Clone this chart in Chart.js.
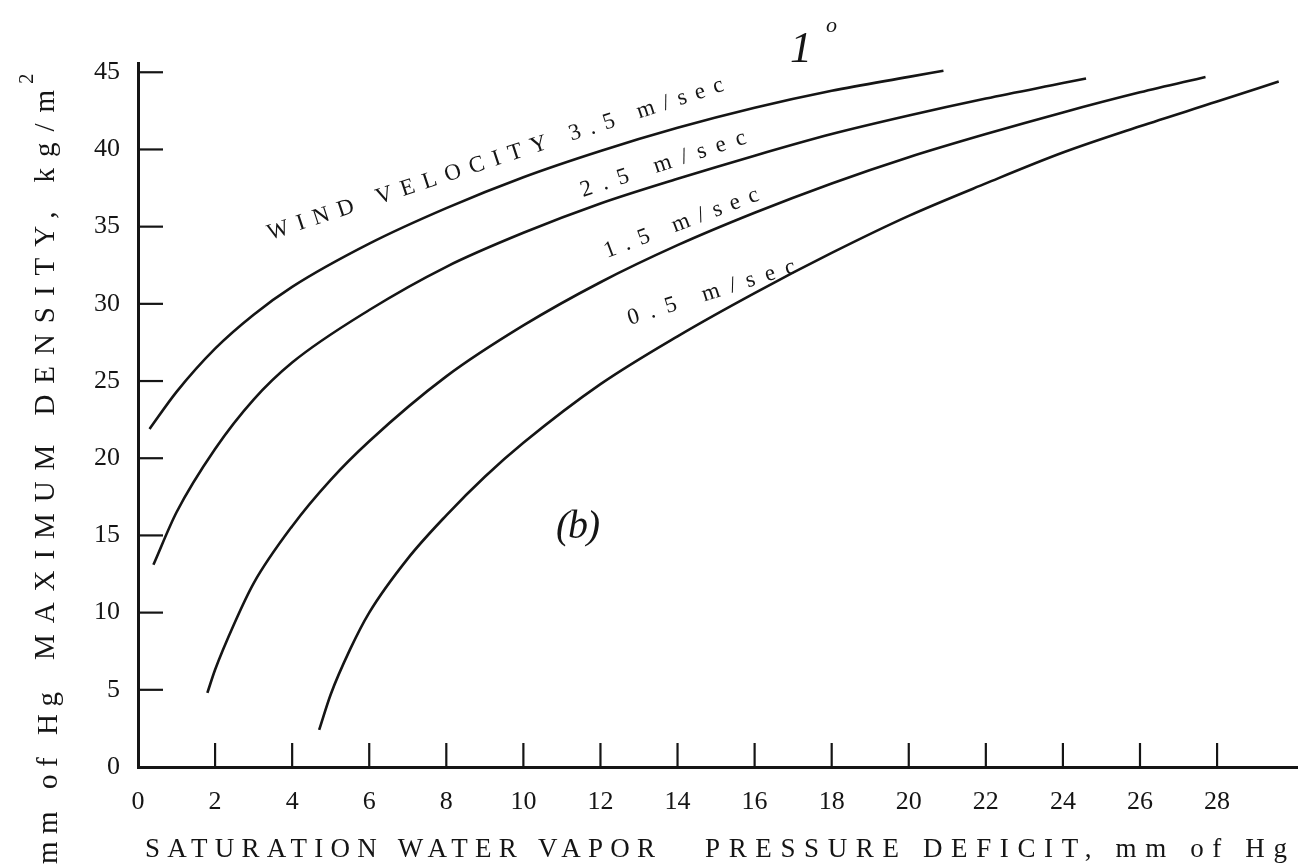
<!DOCTYPE html>
<html>
<head>
<meta charset="utf-8">
<script src="https://cdn.jsdelivr.net/npm/chart.js@4.4.1/dist/chart.umd.min.js"></script>
<style>
  html, body { margin: 0; padding: 0; background: #fff; }
  #chart { display: block; }
</style>
</head>
<body>
<canvas id="chart" width="1298" height="868"></canvas>
<script>
// values
const xTicks = [0, 2, 4, 6, 8, 10, 12, 14, 16, 18, 20, 22, 24, 26, 28];
const yTicks = [0, 5, 10, 15, 20, 25, 30, 35, 40, 45];

const wind35X = [0.3, 1, 2, 3, 4, 6, 8, 10, 12, 14, 16, 18, 20, 20.9];
const wind35Y = [21.9, 24.3, 27.1, 29.3, 31.1, 33.9, 36.2, 38.2, 39.9, 41.4, 42.7, 43.8, 44.7, 45.1];

const wind25X = [0.4, 1, 2, 3, 4, 6, 8, 10, 12, 14, 16, 18, 20, 22, 24, 24.6];
const wind25Y = [13.1, 16.5, 20.6, 23.8, 26.2, 29.6, 32.4, 34.6, 36.5, 38.1, 39.6, 41.0, 42.2, 43.3, 44.3, 44.6];

const wind15X = [1.8, 2, 2.5, 3, 4, 5, 6, 8, 10, 12, 14, 16, 18, 20, 22, 24, 26, 27.7];
const wind15Y = [4.8, 6.3, 9.3, 11.9, 15.6, 18.6, 21.1, 25.3, 28.6, 31.4, 33.8, 35.9, 37.8, 39.5, 41.0, 42.4, 43.7, 44.7];

const wind05X = [4.7, 5, 5.5, 6, 7, 8, 9, 10, 12, 14, 16, 18, 20, 22, 24, 26, 28, 29.6];
const wind05Y = [2.4, 4.7, 7.6, 10.0, 13.5, 16.3, 18.8, 21.0, 24.8, 27.9, 30.7, 33.3, 35.7, 37.8, 39.8, 41.5, 43.1, 44.4];

const curveLabels = ['WIND VELOCITY 3.5 m/sec', '2.5 m/sec', '1.5 m/sec', '0.5 m/sec'];

const ink = '#151515';
const serif = '"Liberation Serif", "DejaVu Serif", serif';

function toPoints(xs, ys) {
  return xs.map((x, i) => ({ x: x, y: ys[i] }));
}

function curve(label, xs, ys) {
  return {
    label: label,
    data: toPoints(xs, ys),
    showLine: true,
    borderColor: ink,
    borderWidth: 2.6,
    pointRadius: 0,
    cubicInterpolationMode: 'monotone',
    fill: false
  };
}

// stretch a string with letter spacing so it covers a given length
function fitText(ctx, text, x, y, width, angle, font) {
  ctx.save();
  ctx.font = font;
  ctx.letterSpacing = '0px';
  const w = ctx.measureText(text).width;
  const gap = (width - w) / (text.length - 1);
  ctx.letterSpacing = gap + 'px';
  ctx.translate(x, y);
  ctx.rotate(angle * Math.PI / 180);
  ctx.textAlign = 'left';
  ctx.textBaseline = 'alphabetic';
  ctx.fillStyle = ink;
  ctx.fillText(text, 0, 0);
  ctx.restore();
}

const paperMarks = {
  id: 'paperMarks',
  afterDraw(chart) {
    const { ctx, chartArea, scales } = chart;
    ctx.save();
    ctx.strokeStyle = ink;
    ctx.lineWidth = 2.2;

    // tick marks point inward, as on the original
    yTicks.filter(v => v > 0).forEach(v => {
      const py = scales.y.getPixelForValue(v);
      ctx.beginPath();
      ctx.moveTo(chartArea.left, py);
      ctx.lineTo(chartArea.left + 25, py);
      ctx.stroke();
    });
    xTicks.filter(v => v > 0).forEach(v => {
      const px = scales.x.getPixelForValue(v);
      ctx.beginPath();
      ctx.moveTo(px, chartArea.bottom);
      ctx.lineTo(px, chartArea.bottom - 24);
      ctx.stroke();
    });
    ctx.restore();

    // axis titles
    fitText(ctx, 'MAXIMUM DENSITY, kg/m', 54, 660, 570, -90, '29px ' + serif);
    fitText(ctx, '2', 33, 84, 12, -90, '21px ' + serif);
    fitText(ctx, 'mm of Hg', 57, 864, 172, -90, '29px ' + serif);
    fitText(ctx, 'SATURATION WATER VAPOR', 145, 857, 510, 0, '27px ' + serif);
    fitText(ctx, 'PRESSURE DEFICIT, mm of Hg', 705, 857, 582, 0, '27px ' + serif);

    // labels along the curves
    fitText(ctx, curveLabels[0], 270, 240, 479, -18.2, '23px ' + serif);
    fitText(ctx, curveLabels[1], 583, 197, 173, -18.2, '23px ' + serif);
    fitText(ctx, curveLabels[2], 607, 258, 164, -20.8, '23px ' + serif);
    fitText(ctx, curveLabels[3], 630, 325, 175, -17.6, '23px ' + serif);

    // handwritten marks
    fitText(ctx, '(b)', 556, 538, 44, 0, 'italic 40px ' + serif);
    fitText(ctx, '1', 790, 62, 20, 0, 'italic 44px ' + serif);
    fitText(ctx, 'o', 826, 32, 10, 0, 'italic 22px ' + serif);
  }
};

new Chart(document.getElementById('chart'), {
  type: 'scatter',
  data: {
    datasets: [
      curve(curveLabels[0], wind35X, wind35Y),
      curve(curveLabels[1], wind25X, wind25Y),
      curve(curveLabels[2], wind15X, wind15Y),
      curve(curveLabels[3], wind05X, wind05Y)
    ]
  },
  options: {
    responsive: false,
    animation: false,
    devicePixelRatio: 1,
    layout: { padding: { top: 63, right: 0, bottom: 0, left: 0 } },
    plugins: {
      legend: { display: false },
      tooltip: { enabled: false }
    },
    scales: {
      x: {
        type: 'linear',
        min: 0,
        max: 30.1,
        afterBuildTicks: axis => { axis.ticks = xTicks.map(v => ({ value: v })); },
        afterFit: axis => { axis.height = 101; },
        grid: { display: false, drawTicks: false },
        border: { display: true, color: ink, width: 3 },
        ticks: { color: ink, padding: 20, font: { family: serif, size: 26 } }
      },
      y: {
        type: 'linear',
        min: 0,
        max: 45.6,
        afterBuildTicks: axis => { axis.ticks = yTicks.map(v => ({ value: v })); },
        afterFit: axis => { axis.width = 138; },
        grid: { display: false, drawTicks: false },
        border: { display: true, color: ink, width: 3 },
        ticks: { color: ink, padding: 18, font: { family: serif, size: 26 } }
      }
    }
  },
  plugins: [paperMarks]
});
</script>
</body>
</html>
